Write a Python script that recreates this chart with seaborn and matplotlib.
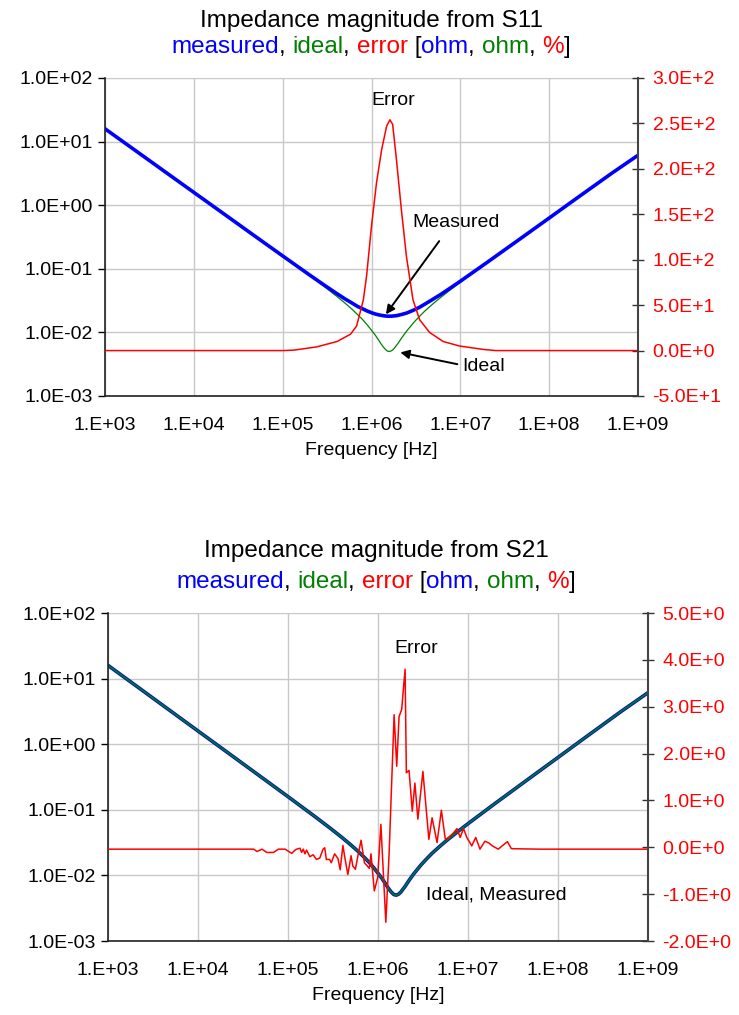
import matplotlib
matplotlib.use("Agg")
import numpy as np
import matplotlib.pyplot as plt
import matplotlib.ticker as mticker
import seaborn as sns

# Frequencias (Hz) e magnitudes
freq_hz = [1e3, 2e3, 5e3, 1e4, 2e4, 5e4, 1e5, 2e5, 3e5, 4e5, 5e5, 6e5, 7e5, 8e5, 9e5,
           1.0e6, 1.1e6, 1.2e6, 1.3e6, 1.4e6, 1.5e6, 1.6e6, 1.7e6, 1.8e6, 1.9e6, 2.0e6,
           2.2e6, 2.5e6, 3e6, 3.5e6, 4e6, 5e6, 6e6, 8e6, 1e7, 2e7, 5e7, 1e8, 2e8, 5e8, 1e9]
z_ideal = [15.9, 7.96, 3.18, 1.59, 0.796, 0.318, 0.1586, 0.0785, 0.0514, 0.0376, 0.0291,
           0.0233, 0.0190, 0.0157, 0.0130, 0.0108, 0.0091, 0.0076, 0.0064, 0.0056, 0.0051,
           0.0050, 0.0052, 0.0056, 0.0062, 0.0068, 0.0083, 0.0106, 0.0144, 0.0181, 0.0218,
           0.0287, 0.0354, 0.0485, 0.0614, 0.125, 0.314, 0.628, 1.26, 3.14, 6.10]
z_measured_s11 = [15.9, 7.96, 3.18, 1.59, 0.796, 0.318, 0.1595, 0.0803, 0.0543, 0.0414,
                  0.0338, 0.0291, 0.0255, 0.0234, 0.0216, 0.0204, 0.0195, 0.0189, 0.0185,
                  0.0182, 0.0180, 0.0180, 0.0180, 0.0182, 0.0183, 0.0186, 0.0192, 0.0202,
                  0.0225, 0.0250, 0.0279, 0.0337, 0.0394, 0.0516, 0.0638, 0.126, 0.314,
                  0.628, 1.26, 3.14, 6.10]
z_measured_s21 = z_ideal

# Erro S11 (%)
err_s11_freq = [1e3, 1e5, 1.34e5, 2.4e5, 4.1e5, 5.8e5, 6.8e5, 8.1e5, 8.8e5, 1.0e6, 1.14e6,
                1.3e6, 1.48e6, 1.61e6, 1.73e6, 1.91e6, 2.17e6, 2.47e6, 2.93e6, 3.48e6,
                4.5e6, 6.4e6, 9.8e6, 1.8e7, 2.5e7, 1e9]
err_s11_pct = [0, 0, 0.5, 4, 10, 18, 27, 56, 82, 137, 185, 221, 247, 254, 249, 210, 155,
               104, 56, 34, 20, 10, 5, 1.3, 0, 0]

# Erro S21 (%) - log10 da frequencia
err_s21_logf = [3.0, 4.0, 4.619, 4.655, 4.711, 4.765, 4.839, 4.894, 4.968, 5.041, 5.078,
                5.096, 5.133, 5.151, 5.170, 5.188, 5.206, 5.243, 5.280, 5.316, 5.353,
                5.390, 5.408, 5.426, 5.463, 5.481, 5.518, 5.555, 5.580, 5.610, 5.628,
                5.665, 5.701, 5.720, 5.749, 5.775, 5.812, 5.849, 5.904, 5.922, 5.959,
                5.996, 6.032, 6.087, 6.124, 6.179, 6.208, 6.234, 6.263, 6.301, 6.315,
                6.345, 6.381, 6.410, 6.443, 6.499, 6.565, 6.601, 6.656, 6.704, 6.748,
                6.785, 6.840, 6.877, 6.913, 6.950, 6.987, 7.042, 7.086, 7.133, 7.188,
                7.233, 7.270, 7.336, 7.380, 7.438, 7.482, 7.8, 8.0, 8.5, 9.0]
err_s21_pct = [-0.04, -0.04, -0.04, -0.09, -0.04, -0.11, -0.11, -0.04, -0.04, -0.13, -0.06,
               -0.04, -0.02, -0.11, -0.04, -0.14, -0.06, -0.20, -0.16, -0.26, -0.23,
               -0.04, -0.01, -0.26, -0.26, -0.33, -0.14, -0.24, -0.48, 0.04, -0.18,
               -0.58, -0.18, -0.40, -0.47, -0.20, 0.15, -0.33, -0.45, -0.14, -0.93,
               -0.65, 0.49, -1.60, -0.11, 2.83, 1.73, 2.79, 2.94, 3.80, 1.59,
               1.64, 0.77, 1.37, 0.60, 1.62, 0.17, 0.63, 0.10, 0.79, 0.17,
               0.21, 0.31, 0.40, 0.21, 0.40, 0.21, 0.03, 0.21, -0.04, 0.13,
               0.09, 0.03, -0.04, 0.03, 0.12, -0.03, -0.04, -0.04, -0.04, -0.04]

x_ticks = [1e3, 1e4, 1e5, 1e6, 1e7, 1e8, 1e9]
x_labels = ["1.E+03", "1.E+04", "1.E+05", "1.E+06", "1.E+07", "1.E+08", "1.E+09"]
y_ticks = [1e-3, 1e-2, 1e-1, 1e0, 1e1, 1e2]
y_labels = ["1.0E-03", "1.0E-02", "1.0E-01", "1.0E+00", "1.0E+01", "1.0E+02"]
r1_ticks = [-50, 0, 50, 100, 150, 200, 250, 300]
r1_labels = ["-5.0E+1", "0.0E+0", "5.0E+1", "1.0E+2", "1.5E+2", "2.0E+2", "2.5E+2", "3.0E+2"]
r2_ticks = [-2, -1, 0, 1, 2, 3, 4, 5]
r2_labels = ["-2.0E+0", "-1.0E+0", "0.0E+0", "1.0E+0", "2.0E+0", "3.0E+0", "4.0E+0", "5.0E+0"]

BLUE = "#0000ff"
GREEN = "#008000"
RED = "#ff0000"

sns.set_theme(style="white")
plt.rcParams["font.family"] = ["Liberation Sans", "DejaVu Sans"]
plt.rcParams["text.color"] = "black"
plt.rcParams["axes.labelcolor"] = "black"

W, H = 739, 1015
fig = plt.figure(figsize=(W / 100, H / 100), dpi=100)


def px_axes(l, t, r, b):
    return fig.add_axes([l / W, 1 - b / H, (r - l) / W, (b - t) / H])


def style_axes(ax, ax2, rt, rl, rlim):
    ax.set_xscale("log")
    ax.set_yscale("log")
    ax.set_xlim(1e3, 1e9)
    ax.set_ylim(1e-3, 1e2)
    ax.xaxis.set_major_locator(mticker.FixedLocator(x_ticks))
    ax.xaxis.set_major_formatter(mticker.FixedFormatter(x_labels))
    ax.yaxis.set_major_locator(mticker.FixedLocator(y_ticks))
    ax.yaxis.set_major_formatter(mticker.FixedFormatter(y_labels))
    ax.xaxis.set_minor_locator(mticker.NullLocator())
    ax.yaxis.set_minor_locator(mticker.NullLocator())
    ax.grid(True, color="#c8c8c8", lw=1.0)
    ax.tick_params(axis="x", length=0, labelsize=14, pad=15, colors="black")
    ax.tick_params(axis="y", direction="out", length=5, width=1, labelsize=14, pad=4,
                   colors="black")
    ax.set_xlabel("Frequency [Hz]", fontsize=14, labelpad=6, color="black")
    ax.set_ylabel("")
    for s in ["top", "right"]:
        ax.spines[s].set_visible(False)
    for s in ["left", "bottom"]:
        ax.spines[s].set_color("#222222")
        ax.spines[s].set_linewidth(1.2)
    ax2.set_ylim(*rlim)
    ax2.yaxis.set_major_locator(mticker.FixedLocator(rt))
    ax2.yaxis.set_major_formatter(mticker.FixedFormatter(rl))
    ax2.tick_params(axis="y", direction="inout", length=9, width=1, labelsize=14,
                    colors="#333333", pad=6)
    ax2.tick_params(axis="y", labelcolor=RED)
    ax2.grid(False)
    ax2.set_ylabel("")
    for s in ["top", "left", "bottom"]:
        ax2.spines[s].set_visible(False)
    ax2.spines["right"].set_color("#444444")
    ax2.spines["right"].set_linewidth(1.5)


def colored_title(x_center, base1, base2, title, parts, size=17.5):
    fig.text(x_center / W, 1 - base1 / H, title, ha="center", va="baseline",
             fontsize=size, color="black")
    r = fig.canvas.get_renderer()
    probe = fig.text(0, 0, "l", fontsize=size)
    lw_ = probe.get_window_extent(r).width

    def width(s):
        probe.set_text(s + "l")
        return probe.get_window_extent(r).width - lw_

    full = "".join(p for p, _ in parts)
    x0 = x_center - width(full) / 2
    prefix = ""
    for s, c in parts:
        fig.text((x0 + width(prefix)) / W, 1 - base2 / H, s, ha="left", va="baseline",
                 fontsize=size, color=c)
        prefix += s
    probe.remove()


parts = [("measured", BLUE), (", ", "black"), ("ideal", GREEN), (", ", "black"),
         ("error", RED), (" [", "black"), ("ohm", BLUE), (", ", "black"),
         ("ohm", GREEN), (", ", "black"), ("%", RED), ("]", "black")]

# ---- S11 ----
ax1 = px_axes(105, 78, 638, 396)
ax1b = ax1.twinx()
sns.lineplot(x=freq_hz, y=z_ideal, ax=ax1, color=GREEN, lw=0.9, estimator=None, sort=False)
sns.lineplot(x=freq_hz, y=z_measured_s11, ax=ax1, color=BLUE, lw=2.6, estimator=None,
             sort=False)
sns.lineplot(x=err_s11_freq, y=err_s11_pct, ax=ax1b, color=RED, lw=1.1, estimator=None,
             sort=False)
style_axes(ax1, ax1b, r1_ticks, r1_labels, (-50, 300))
ax1.text(0.540, 0.928, "Error", transform=ax1.transAxes, ha="center", va="center",
         fontsize=14, color="black")
ax1.text(0.659, 0.547, "Measured", transform=ax1.transAxes, ha="center", va="center",
         fontsize=14, color="black")
ax1.text(0.710, 0.094, "Ideal", transform=ax1.transAxes, ha="center", va="center",
         fontsize=14, color="black")
arrow = dict(arrowstyle="-|>", color="black", lw=1.4, mutation_scale=13,
             shrinkA=0, shrinkB=0)
ax1.annotate("", xy=(0.527, 0.257), xytext=(0.627, 0.487), xycoords="axes fraction",
             textcoords="axes fraction", arrowprops=arrow)
ax1.annotate("", xy=(0.554, 0.137), xytext=(0.661, 0.100), xycoords="axes fraction",
             textcoords="axes fraction", arrowprops=arrow)

# ---- S21 ----
ax2 = px_axes(108, 613, 648, 941)
ax2b = ax2.twinx()
sns.lineplot(x=freq_hz, y=z_measured_s21, ax=ax2, color=BLUE, lw=2.6, estimator=None,
             sort=False)
sns.lineplot(x=freq_hz, y=z_ideal, ax=ax2, color=GREEN, lw=1.3, estimator=None, sort=False)
sns.lineplot(x=[10 ** v for v in err_s21_logf], y=err_s21_pct, ax=ax2b, color=RED, lw=1.1,
             estimator=None, sort=False)
style_axes(ax2, ax2b, r2_ticks, r2_labels, (-2, 5))
ax2.text(0.571, 0.891, "Error", transform=ax2.transAxes, ha="center", va="center",
         fontsize=14, color="black")
ax2.text(0.719, 0.140, "Ideal, Measured", transform=ax2.transAxes, ha="center",
         va="center", fontsize=14, color="black")

colored_title(371, 27, 53, "Impedance magnitude from S11", parts)
colored_title(376, 557, 588, "Impedance magnitude from S21", parts)

fig.savefig("out.png", dpi=100, facecolor="white")
